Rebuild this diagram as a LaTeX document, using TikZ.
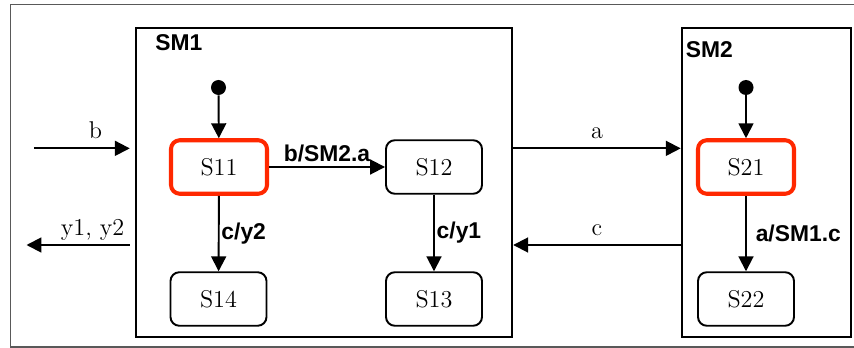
\documentclass[tikz,border=0pt]{standalone}
\usepackage{fontspec}
\newfontfamily\evtfont{Liberation Sans}
\usepackage{xcolor}
\usetikzlibrary{arrows.meta,positioning}
\definecolor{activered}{RGB}{255,40,0}

\begin{document}
\begin{tikzpicture}[
  every node/.style={font=\fontsize{13.8}{16}\selectfont},
  machine/.style={draw, line width=1.1pt, minimum width=#1, minimum height=6.18cm, inner sep=0pt},
  state/.style={draw, rounded corners=5pt, line width=1.1pt, minimum width=1.92cm, minimum height=1.07cm},
  active/.style={state, draw=activered, line width=2.3pt},
  init/.style={circle, fill, inner sep=0pt, minimum size=0.3cm},
  arrow/.style={-{Triangle[length=8.5pt,width=8.5pt]}, line width=1.1pt},
  evt/.style={font=\fontsize{13}{15}\selectfont\evtfont\bfseries, inner sep=1pt},
  sig/.style={text depth=0pt, inner sep=0pt, above=5pt}
]
  \useasboundingbox (0,0) rectangle (17.08,-6.96);
  \draw[black!65, line width=0.9pt] (0.21,-0.09) rectangle (17.5,-6.94);

  % the two machines
  \node[machine=7.53cm] (SM1) at (6.48,-3.656) {};
  \node[machine=3.38cm] (SM2) at (15.324,-3.656) {};
  \node[evt, anchor=north west, inner sep=0pt] (SM1lbl) at (3.10,-0.68) {SM1};
  \node[evt, anchor=north west, inner sep=0pt] (SM2lbl) at (13.71,-0.82) {SM2};

  \node[init] (init1) at (4.37,-1.75) {};
  \node[active] (S11) at (4.38,-3.34) {S11};
  \node[state] (S12) at (8.68,-3.34) {S12};
  \node[state] (S13) at (8.68,-5.98) {S13};
  \node[state] (S14) at (4.37,-5.98) {S14};

  \node[init] (init2) at (14.92,-1.75) {};
  \node[active] (S21) at (14.92,-3.34) {S21};
  \node[state] (S22) at (14.92,-5.98) {S22};

  \coordinate (bin)  at (0.68,-2.967);
  \coordinate (yout) at (0.53,-4.9);

  \draw[arrow] (init1) -- (S11);
  \draw[arrow] (S11) -- node[evt, above=1.5pt] {b/SM2.a} (S12);
  \draw[arrow] (S11) -- node[evt, right] {c/y2} (S14);
  \draw[arrow] (S12) -- node[evt, right] {c/y1} (S13);
  \draw[arrow] (init2) -- (S21);
  \draw[arrow] (S21) -- node[evt, right=4pt] {a/SM1.c} (S22);

  \draw[arrow, shorten >=0.1cm] (bin) -- node[sig, pos=0.61] {b} (bin -| SM1.west);
  \draw[arrow] ([xshift=-0.1cm]SM1.west |- yout) -- node[sig, pos=0.36] {y1, y2} (yout);
  \draw[arrow] (SM1.east |- bin) -- node[sig] {a} (SM2.west |- bin);
  \draw[arrow] (SM2.west |- yout) -- node[sig] {c} (SM1.east |- yout);
\end{tikzpicture}
\end{document}
